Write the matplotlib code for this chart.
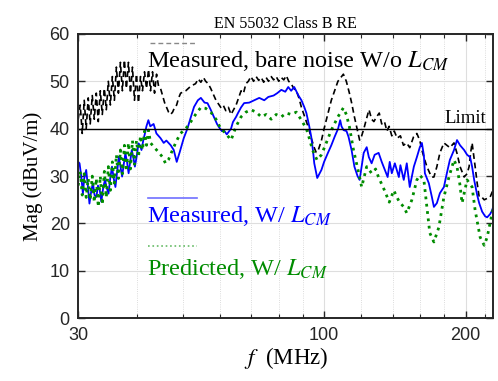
import numpy as np
import matplotlib.pyplot as plt
from matplotlib.ticker import FixedLocator, NullFormatter

plt.rcParams['font.family'] = ['Liberation Serif', 'DejaVu Serif']
plt.rcParams['mathtext.fontset'] = 'stix'

# bare noise, without the CM choke (black dashed)
f_bare = [30.00, 30.30, 30.60, 30.90, 31.20, 31.51, 31.82, 32.14, 32.46, 32.78,
          33.10, 33.43, 33.76, 34.10, 34.43, 34.77, 35.12, 35.46, 35.82, 36.17,
          36.53, 36.89, 37.25, 37.62, 37.99, 38.37, 38.75, 39.13, 39.52, 39.91,
          40.30, 40.70, 41.10, 41.51, 41.92, 42.33, 42.75, 43.17, 43.60, 44.03,
          44.46, 44.90, 45.35, 45.80, 46.25, 46.70, 47.17, 47.63, 48.10, 48.58,
          49.06, 49.54,
          50.8, 52.1, 53.3, 54.0, 54.7, 55.4, 56.0, 56.7, 57.4, 58.9,
          60.3, 61.0, 61.8, 62.6, 63.4, 64.2, 65.0, 65.8, 66.6, 67.4,
          68.2, 69.0, 69.9, 70.8, 71.7, 72.6, 73.5, 74.4, 75.3, 76.2,
          77.2, 78.1, 79.1, 80.1, 81.1, 82.1, 83.1, 84.1, 85.1, 86.2,
          87.3, 88.4, 89.5, 90.6, 91.7, 92.8, 93.9, 95.3, 96.2, 97.2,
          98.7, 100.0, 101.8, 103.6, 105.3, 107.0, 108.9, 109.9, 111.5, 113.2,
          114.4, 116.0, 117.5, 119.0, 120.2, 121.5, 123.0, 124.6, 126.2, 127.6,
          129.3, 131.0, 132.6, 134.4, 136.0, 137.5, 139.3, 141.0, 143.0, 145.3,
          147.5, 149.8, 152.1, 155.0, 157.5, 159.8, 161.4, 163.0, 165.4, 167.8,
          169.5, 171.2, 173.7, 176.3, 179.8, 182.4, 185.1, 188.9, 191.7, 194.6,
          198.5, 201.4, 203.4, 205.0, 206.4, 208.0, 209.5, 211.6, 213.7, 216.8,
          219.0, 222.2, 225.5, 228.5, 231.2]
mag_bare = [42, 45, 39, 46, 40, 46.5, 41, 47, 42, 47.5,
            41.5, 48, 43, 48.5, 44, 50, 45, 51, 46, 53,
            47.5, 54, 48, 54.5, 48.5, 54, 47.5, 53, 46, 51.5,
            45.5, 51, 48, 52, 48.5, 52.5, 48, 52, 47.5, 51.5,
            49, 48.5, 47, 45.5, 44.5, 43.5, 43, 43.5, 44.5, 45,
            46.5, 47.5,
            48, 49, 49.5, 50.5, 49.8, 50.8, 50, 49.5, 48.5, 46,
            44.5, 45, 43.8, 44.5, 43, 44, 45, 46.5, 48, 47.5,
            49.5, 50, 51, 50, 51, 50.2, 50.8, 49.8, 50.8, 50,
            51, 50.3, 51, 50, 50.8, 50.3, 51.2, 50, 49.5, 48.5,
            48, 46.5, 44.5, 43, 41.5, 40, 38, 36, 35, 35.5,
            37.5, 40, 43, 46, 48, 50, 51, 51.5, 50, 47.5,
            45.5, 42.5, 40, 37.6, 38.5, 40, 42, 44, 42, 41.5,
            42.5, 43.3, 41, 41.5, 39.5, 40.5, 38.5, 39.5, 38, 38.5,
            36.5, 37, 36, 38.3, 39, 37.5, 35.5, 34, 32, 30.6,
            29.8, 29.8, 32, 34.9, 37, 36.5, 36, 37, 34.8, 32,
            29.8, 30.5, 32, 35, 37, 34.5, 32, 28.5, 25.6, 25.5,
            25, 25.3, 25.6, 27, 27.7]

# measured with L_CM (blue)
f_meas = [30.0, 30.2, 30.45, 30.7, 30.9, 31.2, 31.45, 31.7, 32.0, 32.25,
          32.5, 32.8, 33.05, 33.35, 33.6, 33.9, 34.2, 34.5, 34.8, 35.1,
          35.4, 35.7, 36.0, 36.3, 36.6, 36.9, 37.2, 37.5, 37.8, 38.1,
          38.4, 38.7, 39.0, 39.3, 39.6, 40.0, 40.3, 40.6, 40.9, 41.25,
          41.6, 41.9, 42.3, 42.7, 43.4, 44.0, 44.9, 45.6, 46.2, 47.2,
          47.9, 48.6, 49.3, 50.3, 51.2, 52.1, 52.9, 53.9, 54.7, 55.7,
          56.5, 57.4, 58.3, 59.2, 59.7, 60.6, 61.2, 62.1, 63.4, 64.0,
          65.0, 65.6, 66.6, 67.6, 69.3, 71.0, 72.8, 74.6, 76.1, 78.1,
          79.5, 81.1, 82.7, 83.9, 85.1, 86.4, 88.2, 89.5, 90.8, 91.7,
          93.0, 93.9, 94.8, 95.3, 96.7, 98.7, 100.0, 101.9, 103.6, 105.3,
          107.1, 108.2, 108.9, 110.0, 111.6, 112.7, 114.4, 116.0, 117.8, 119.0,
          120.2, 121.4, 123.2, 124.5, 126.2, 128.1, 130.6,
          132.6, 136.5, 137.9, 139.3, 141.4, 144.2, 145.3, 147.7, 149.9, 152.1,
          155.2, 157.5, 159.8, 161.4, 163.0, 163.8, 167.0, 169.5, 171.2, 173.7,
          176.3, 179.8, 182.4, 185.1, 188.9, 191.7, 194.6, 198.5, 201.4, 204.4,
          206.4, 208.5, 211.6, 213.7, 216.8, 220.1, 222.2, 225.5, 227.7, 231.2]
mag_meas = [33, 32.7, 30, 26.3, 29.5, 31.3, 28, 24.2, 27, 28.5,
            26, 25.6, 28, 27, 24.6, 27.5, 29.2, 27.5, 26.3, 29.5,
            32, 29.5, 27.7, 31, 34.1, 32, 29.9, 32.5, 34.8, 33,
            30.6, 33, 35.5, 34, 32, 34.5, 36.9, 36.5, 35.5, 37.5,
            39, 40.5, 41.8, 40.5, 41, 39, 38, 37, 37.5, 36.5,
            35.5, 33, 35, 38, 40, 42.5, 44.6, 46, 46.5, 45.5,
            45.4, 44, 42.5, 41, 40.4, 39.5, 39.7, 38.8, 40, 41.4,
            42.5, 43.3, 44.5, 45.4, 45.5, 46, 46.5, 46, 46.7, 47,
            47.5, 48.2, 47.8, 48.8, 48, 48.8, 47, 46, 44.5, 43.3,
            40.5, 38.3, 35, 32.7, 29.6, 31.3, 33, 34.9, 36.5, 38.3,
            40, 41.8, 40.5, 39.7, 39.5, 38.3, 35.5, 32, 30, 29.2,
            32, 34.9, 36.1, 34, 32.7, 34.5, 34.9,
            33, 29.8, 33, 30.6, 32.7, 29.8, 32.3, 29.2, 32.7, 27.7,
            32, 34, 36.1, 37, 34.4, 30.6, 28.5, 25.6, 23.5, 24.3,
            26.4, 27.7, 30.6, 33.4, 35.5, 37.6, 36.5, 35.5, 34.5, 34,
            32, 29.2, 26, 24.3, 22.5, 21.5, 21.3, 22, 22.8, 25]

# predicted with L_CM (green dotted)
f_pred = [30.00, 30.30, 30.60, 30.90, 31.20, 31.51, 31.82, 32.14, 32.46, 32.78,
          33.10, 33.43, 33.76, 34.10, 34.43, 34.77, 35.12, 35.46, 35.82, 36.17,
          36.53, 36.89, 37.25, 37.62, 37.99, 38.37, 38.75, 39.13, 39.52, 39.91,
          40.30, 40.70, 41.10, 41.51, 41.92, 42.33, 42.75,
          43.6, 44.5, 45.35, 46.0, 46.7, 47.6, 48.6, 49.5, 50.8, 52.1,
          53.3, 54.7, 56.0, 57.4, 58.9, 60.3, 61.8, 62.6, 63.4, 64.2,
          65.0, 66.6, 68.2, 69.9, 71.7, 73.5, 75.3, 77.2, 79.1, 81.1,
          83.1, 85.1, 87.3, 89.5, 91.7, 93.0, 94.5, 96.6, 98.7, 100.6,
          103.6, 107.0, 109.9, 111.5, 113.2, 115.5, 118.5, 120.2, 123.2, 126.2,
          128.7, 130.5, 134.4, 137.6, 140.7, 142.7, 144.7, 147.7, 149.9, 153.7,
          157.5, 159.8, 163.0, 165.4, 167.8, 171.2, 175.4, 179.8, 184.3, 188.9,
          191.7, 194.6, 196.5, 201.4, 206.4, 209.5, 214.7, 219.0, 222.2, 227.7,
          231.2, 233.4]
mag_pred = [28, 31, 26, 30.5, 25.5, 29.5, 25, 30, 24.5, 29.5,
            23.5, 30, 24, 31, 25.5, 32, 27, 33, 28.5, 34.5,
            29.5, 35.5, 30.5, 36.5, 31, 37, 31.5, 37.5, 32.5, 37.5,
            34, 38.5, 35.5, 39.5, 36.5, 39.7, 37,
            36, 35, 34, 32.7, 33.5, 35.5, 37.5, 39, 40, 41.5,
            43, 44.5, 44.3, 43.5, 42, 40, 39, 38.3, 37.6, 39,
            40.5, 42.5, 43.5, 44, 43.5, 42.5, 43, 42, 43, 42.5,
            43.3, 43, 43.5, 41.8, 40, 38, 35.5, 33.4, 34.5, 36.5,
            39.7, 42.5, 44.4, 43, 40.4, 35.5, 30.6, 27.7, 32, 30.6,
            31.5, 29.8, 27, 24.5, 27, 25.6, 24.5, 23.5, 22.2, 25,
            29.2, 30.2, 29.2, 23.5, 18, 16.1, 19.2, 25.6, 29.8, 33.4,
            32, 28, 24.3, 29.2, 27.7, 22.8, 17.1, 15.4, 17.1, 22.2,
            25, 24.5]

limit = 40
x_major = [30, 100, 200]
x_minor = [40, 50, 60, 70, 80, 90, 120, 140, 160, 180, 220]
y_ticks = [0, 10, 20, 30, 40, 50, 60]

green = '#008c00'
fig = plt.figure(figsize=(4.98, 3.81), dpi=100)
ax = fig.add_axes([0.157, 0.1646, 0.8336, 0.7464])

ax.plot(f_bare, mag_bare, color='k', lw=1.2, dashes=(3.5, 2.2))
ax.plot(f_meas, mag_meas, color='b', lw=1.3)
ax.plot(f_pred, mag_pred, color=green, lw=2.0, ls=':')
ax.axhline(limit, color='k', lw=1.0)

ax.set_xscale('log')
ax.set_xlim(30, 229)
ax.set_ylim(0, 60)
ax.xaxis.set_major_locator(FixedLocator(x_major))
ax.xaxis.set_minor_locator(FixedLocator(x_minor))
ax.xaxis.set_minor_formatter(NullFormatter())
ax.set_xticklabels([str(v) for v in x_major])
ax.set_yticks(y_ticks)

ax.grid(True, which='major', color='#dedede', lw=0.8, ls='-')
ax.grid(True, which='minor', axis='x', color='#d0d0d0', lw=0.6, ls=':')
ax.set_axisbelow(True)

for s in ax.spines.values():
    s.set_linewidth(1.4)
    s.set_color('#262626')
ax.tick_params(which='both', direction='in', top=True, right=True, color='#262626',
               labelsize=13, labelfontfamily='Liberation Sans', labelcolor='#262626')
ax.tick_params(which='major', length=5, width=1.0, pad=6)
ax.tick_params(which='minor', length=3, width=0.8)

ax.set_title('EN 55032 Class B RE', fontsize=11.5, pad=4)
ax.set_xlabel('$f$  (MHz)', fontsize=16.5, labelpad=1)
ax.set_ylabel('Mag (dBuV/m)', fontsize=15, labelpad=5)

ax.text(0.983, 0.672, 'Limit', transform=ax.transAxes, ha='right', va='bottom', fontsize=13.5)

# legend entries: sample line above each coloured label
ax.plot([0.173, 0.287], [0.968, 0.968], transform=ax.transAxes, color='#888888', lw=1.0, dashes=(3.5, 2.2))
ax.text(0.166, 0.905, 'Measured, bare noise W/o $L_{CM}$', transform=ax.transAxes,
        va='center', ha='left', fontsize=17.5, color='k')
ax.plot([0.168, 0.287], [0.423, 0.423], transform=ax.transAxes, color='#6f6fff', lw=1.2)
ax.text(0.166, 0.36, 'Measured, W/ $L_{CM}$', transform=ax.transAxes,
        va='center', ha='left', fontsize=17.5, color='b')
ax.plot([0.168, 0.287], [0.254, 0.254], transform=ax.transAxes, color='#66bb66', lw=1.2, ls=':')
ax.text(0.166, 0.174, 'Predicted, W/ $L_{CM}$', transform=ax.transAxes,
        va='center', ha='left', fontsize=17.5, color=green)

fig.savefig('out.png', dpi=100)
